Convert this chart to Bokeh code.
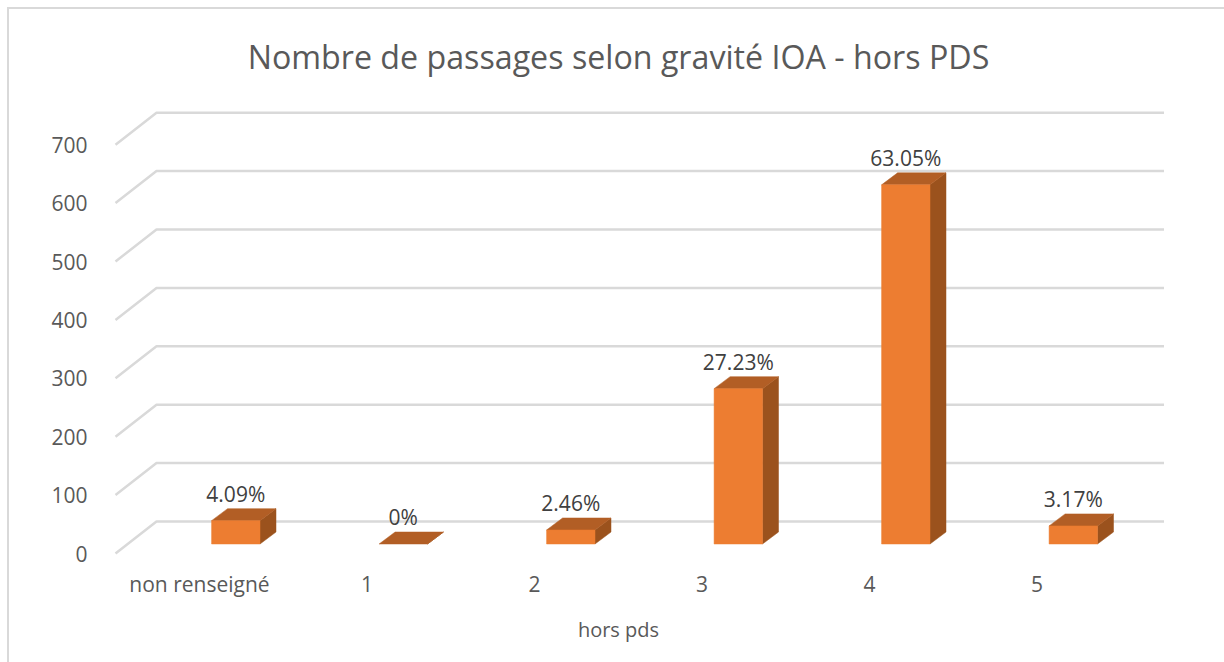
from bokeh.plotting import figure
from bokeh.models import FixedTicker, Range1d, ColumnDataSource
from bokeh.embed import file_html
from bokeh.resources import INLINE
from bokeh.core.properties import value

TITLE = "Nombre de passages selon gravité IOA - hors PDS"
X_TITLE = "hors pds"
categories = ["non renseigné", "1", "2", "3", "4", "5"]
passages = [40, 0, 24, 266, 615, 31]
percent_labels = ["4.09%", "0%", "2.46%", "27.23%", "63.05%", "3.17%"]
y_ticks = [0, 100, 200, 300, 400, 500, 600, 700]

FONT = "Open Sans"
GRID = "#D9D9D9"
FRONT = "#ED7D31"
TOP = "#B25E25"
SIDE = "#9B521D"
AXIS_TEXT = "#595959"
LABEL_TEXT = "#404040"

PX_X = 167.5   # pixels per category
PX_Y = 0.584   # pixels per value unit

# projection offsets, in data units
WALL_DX = 41 / PX_X
WALL_DY = 32 / PX_Y
FLOOR_LEFT = -84 / PX_X
FLOOR_RIGHT = 1122.5 / PX_X - 199 / PX_X
BAR_SHIFT = 36.3 / PX_X
BAR_HALF = 24.2 / PX_X
BAR_BASE = 9.5 / PX_Y
BAR_DX = 16 / PX_X
BAR_DY = 12 / PX_Y

p = figure(
    width=1224, height=662, frame_width=1104, frame_height=460,
    min_border_left=66, min_border_right=54, min_border_top=100, min_border_bottom=102,
    x_range=Range1d(-133 / PX_X, 971 / PX_X), y_range=Range1d(-7 / PX_Y, 453 / PX_Y),
    output_backend="svg", toolbar_location=None, outline_line_color=None,
    background_fill_color=None, border_fill_color=None,
    title=TITLE,
)
# chart-area border (left and top edges; the others fall outside the picture)
p.styles = {
    "background-color": "white",
    "background-image": f"linear-gradient({GRID},{GRID}), linear-gradient({GRID},{GRID})",
    "background-size": "2px 100%, 100% 2px",
    "background-position": "7px 7px, 7px 7px",
    "background-repeat": "no-repeat",
}
p.title.align = "center"
p.title.text_font = FONT
p.title.text_font_size = "32.2px"
p.title.text_font_style = "normal"
p.title.text_color = AXIS_TEXT
p.title.standoff = 45

p.grid.visible = False

# gridlines: diagonal on the side wall + line on the back wall
xs, ys = [], []
for t in y_ticks:
    xs.append([FLOOR_LEFT, FLOOR_LEFT + WALL_DX, FLOOR_RIGHT + WALL_DX])
    ys.append([t, t + WALL_DY, t + WALL_DY])
p.multi_line(xs, ys, line_color=GRID, line_width=2.5)

# 3D bars
cx = [i + BAR_SHIFT for i in range(len(categories))]
lefts = [c - BAR_HALF for c in cx]
rights = [c + BAR_HALF for c in cx]
bases = [BAR_BASE] * len(passages)
tops = [BAR_BASE + v for v in passages]

side_x = [[r, r + BAR_DX, r + BAR_DX, r] for r in rights]
side_y = [[b, b + BAR_DY, t + BAR_DY, t] for b, t in zip(bases, tops)]
top_x = [[l, l + BAR_DX, r + BAR_DX, r] for l, r in zip(lefts, rights)]
top_y = [[t, t + BAR_DY, t + BAR_DY, t] for t in tops]

p.patches(side_x, side_y, fill_color=SIDE, line_color=SIDE, line_width=0.5)
p.patches(top_x, top_y, fill_color=TOP, line_color=TOP, line_width=0.5)
nz = [i for i, v in enumerate(passages) if v > 0]
p.quad(left=[lefts[i] for i in nz], right=[rights[i] for i in nz],
       bottom=[bases[i] for i in nz], top=[tops[i] for i in nz],
       fill_color=FRONT, line_color=FRONT, line_width=0.5)

# data labels
src = ColumnDataSource(dict(x=cx, y=tops, text=percent_labels))
p.text("x", "y", text="text", source=src, y_offset=-27, text_align="center", text_baseline="middle",
       text_font=value(FONT), text_font_size="21px", text_color=LABEL_TEXT)

# axes
ya = p.yaxis[0]
ya.ticker = FixedTicker(ticks=y_ticks)
ya.axis_line_color = None
ya.major_tick_line_color = None
ya.minor_tick_line_color = None
ya.major_label_standoff = -27
ya.major_label_text_font = FONT
ya.major_label_text_font_size = "21px"
ya.major_label_text_color = AXIS_TEXT

xa = p.xaxis[0]
xa.ticker = FixedTicker(ticks=list(range(len(categories))))
xa.major_label_overrides = {i: c for i, c in enumerate(categories)}
xa.axis_line_color = None
xa.major_tick_line_color = None
xa.minor_tick_line_color = None
xa.major_label_standoff = 3
xa.major_label_text_font = FONT
xa.major_label_text_font_size = "21px"
xa.major_label_text_color = AXIS_TEXT
xa.axis_label = X_TITLE
xa.axis_label_text_font = FONT
xa.axis_label_text_font_size = "20px"
xa.axis_label_text_font_style = "normal"
xa.axis_label_text_color = AXIS_TEXT
xa.axis_label_standoff = 15

open("out.html", "w").write(file_html(p, INLINE))
